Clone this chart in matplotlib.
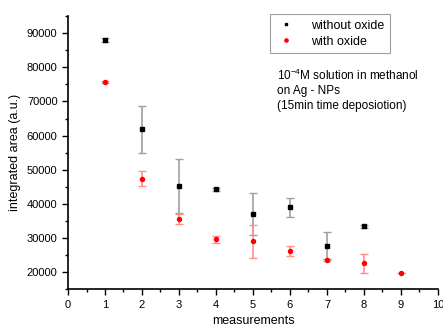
import matplotlib
matplotlib.use("Agg")
import matplotlib.pyplot as plt
from matplotlib.ticker import MultipleLocator

plt.rcParams['font.family'] = ['Liberation Sans', 'DejaVu Sans']
plt.rcParams['mathtext.fontset'] = 'custom'
plt.rcParams['mathtext.rm'] = 'Liberation Sans'

x_without = [1, 2, 3, 4, 5, 6, 7, 8]
y_without = [88000, 61800, 45300, 44300, 37100, 39000, 27800, 33450]
err_without = [500, 7000, 8000, 500, 6200, 2700, 4000, 500]

x_with = [1, 2, 3, 4, 5, 6, 7, 8, 9]
y_with = [75600, 47400, 35600, 29600, 29100, 26200, 23650, 22650, 19800]
err_with = [300, 2200, 1400, 1000, 4850, 1350, 300, 2750, 0]

fig = plt.figure(figsize=(4.43, 3.29), dpi=100)
ax = fig.add_axes([0.1535, 0.1207, 0.8352, 0.8303])

ax.errorbar(x_without, y_without, yerr=err_without, fmt='none', ecolor='#a0a0a0',
            elinewidth=1.2, capsize=3, capthick=1.0, zorder=2)
ax.errorbar(x_with, y_with, yerr=err_with, fmt='none', ecolor='#ff9090',
            elinewidth=1.2, capsize=3, capthick=1.0, zorder=2)
ax.plot(x_without, y_without, 's', color='black', markersize=2.6, zorder=3,
        label='without oxide')
ax.plot(x_with, y_with, 'o', color='red', markersize=2.9, zorder=3,
        label='with oxide')

ax.set_xlim(0, 10)
ax.set_ylim(15000, 95000)
ax.xaxis.set_major_locator(MultipleLocator(1))
ax.xaxis.set_minor_locator(MultipleLocator(0.5))
ax.yaxis.set_major_locator(MultipleLocator(10000))
ax.yaxis.set_minor_locator(MultipleLocator(5000))
ax.set_yticks([20000, 30000, 40000, 50000, 60000, 70000, 80000, 90000])
for s in ['top', 'right']:
    ax.spines[s].set_visible(False)
for s in ['left', 'bottom']:
    ax.spines[s].set_linewidth(1.2)
ax.tick_params(which='major', direction='out', length=4, width=1.0, labelsize=8)
ax.tick_params(which='minor', direction='out', length=2.5, width=1.0)

ax.set_xlabel('measurements', fontsize=9, labelpad=4)
ax.set_ylabel('integrated area (a.u.)', fontsize=9, labelpad=4)

leg = ax.legend(loc='upper left', bbox_to_anchor=(0.546, 1.007), fontsize=9,
                frameon=True, fancybox=False, edgecolor='#888888',
                handlelength=1.6, handletextpad=1.2, borderpad=0.45,
                borderaxespad=0.0, labelspacing=0.3, markerscale=0.8)
leg.get_frame().set_linewidth(0.8)

fig.text(277/443, 1 - 68/329,
         '10$^{-4}$M solution in methanol\non Ag - NPs\n(15min time deposiotion)',
         fontsize=8.5, va='top', ha='left', linespacing=1.25)

fig.savefig('out.png', dpi=100)
